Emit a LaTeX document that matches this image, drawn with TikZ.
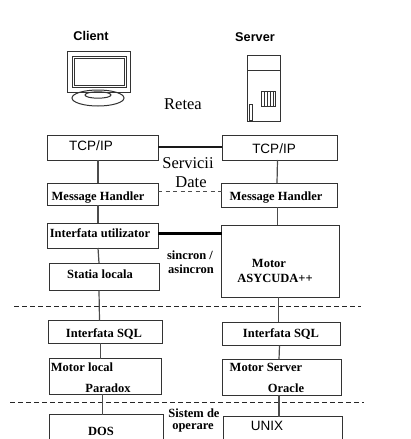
\documentclass[tikz,border=0pt]{standalone}
\usepackage{fontspec}
\setmainfont{Liberation Serif}
\setsansfont{Liberation Sans}
\usetikzlibrary{positioning}

\begin{document}
\begin{tikzpicture}[
    x=1pt, y=-1pt,
    node distance=20pt and 60pt,
    block/.style={rectangle, draw=black!80, line width=0.95pt, inner sep=0pt, outer sep=0pt, minimum width=111pt, minimum height=25pt},
    serverblock/.style={block, minimum width=117pt},
    link/.style={draw=black!70, line width=1.2pt},
    sep/.style={draw=black!85, line width=0.8pt, dash pattern=on 4.5pt off 3.5pt},
    boxlabel/.style={font=\fontsize{12.5}{14}\selectfont\bfseries, text=black},
    netlabel/.style={font=\fontsize{16.5}{18}\selectfont, text=black},
    headlabel/.style={font=\fontsize{12.7}{14}\selectfont\sffamily\bfseries, text=black},
    tcplabel/.style={font=\fontsize{13.5}{15}\selectfont\sffamily, text=black},
    icon/.style={draw=black!80, line width=1pt},
]
\path[use as bounding box, clip] (0,0) rectangle (410,439);

% === Titles ===
\node (client) [headlabel] at (91,36) {Client};
\node (server) [headlabel] at (255,37) {Server};
\node (retea) [netlabel] at (183,104) {Retea};

% === Monitor ===
\draw[icon] (67,51) rectangle (130,92);
\draw[icon] (72,56) rectangle (126,87);
\draw[icon] (74,58) rectangle (124,85);
\draw[icon] (98,98) ellipse (26 and 8);
\draw[icon] (98,95) ellipse (13 and 3.2);

% === Tower ===
\draw[icon] (247,55) rectangle (280,121);
\draw[icon] (247,70) -- (280,70);
\draw[icon] (261,91) rectangle (275,106);
\foreach \gx in {264,267,270,273} \draw[icon, line width=0.7pt] (\gx,91) -- (\gx,106);
\draw[icon] (249.5,104) rectangle (252.5,120);

% === Client stack ===
\node (tcp_c) [block, anchor=north west] at (47,135) {};
\node (mh_c) [block, minimum height=22pt, below=23pt of tcp_c] {};
\node (ui_c) [block, below=18pt of mh_c] {};
\node (st_c) [block, minimum width=110pt, minimum height=27.5pt, below=15pt of ui_c, xshift=1.5pt] {};
\node (sql_c) [block, minimum width=114pt, minimum height=22.5pt, below=30pt of st_c, xshift=1.5pt] {};
\node (mot_c) [block, minimum width=112pt, minimum height=35.5pt, below=15.5pt of sql_c] {};
\node (dos_c) [block, minimum width=114pt, minimum height=40pt, below=20.5pt of mot_c, xshift=1pt] {};

% === Server stack ===
\node (tcp_s) [serverblock, minimum width=115pt, anchor=north west] at (222,135) {};
\node (mh_s) [serverblock, minimum width=116pt, minimum height=24pt, below=23pt of tcp_s] {};
\node (asy_s) [serverblock, minimum width=118pt, minimum height=72pt, below=18pt of mh_s, xshift=1pt] {};
\node (sql_s) [serverblock, minimum width=118pt, minimum height=23.5pt, below=25pt of asy_s, xshift=1pt] {};
\node (mot_s) [serverblock, minimum width=119pt, minimum height=35.5pt, below=14pt of sql_s] {};
\node (unix_s) [serverblock, minimum width=119pt, minimum height=40pt, below=21.5pt of mot_s, xshift=1pt] {};

% === Separators ===
\coordinate (sep1a) at (14,306.7);
\coordinate (sep1b) at (361,306.7);
\coordinate (sep2a) at (10,402);
\coordinate (sep2b) at (364,402);
\draw[sep] (sep1a) -- (sep1b);
\draw[sep] (sep2a) -- (sep2b);

% === Links, client ===
\draw[link] ([xshift=-4.5pt]tcp_c.south) -- ([xshift=-4.5pt]mh_c.north);
\draw[link] ([xshift=-4.5pt]mh_c.south) -- ([xshift=-4.5pt]ui_c.north);
\draw[link] ([xshift=-4.5pt]ui_c.south) -- ([xshift=-5pt]st_c.north);
\draw[link] ([xshift=-5pt]st_c.south) -- ([xshift=-6pt]sql_c.north);
\draw[link] ([xshift=-5pt]sql_c.south) -- ([xshift=-5pt]mot_c.north);
\draw[link] ([xshift=-3pt]mot_c.south) -- ([xshift=-4pt]dos_c.north);

% === Links, server ===
\draw[link] ([xshift=-2pt]tcp_s.south) -- ([xshift=-2.5pt]mh_s.north);
\draw[link] ([xshift=-2pt]mh_s.south) -- ([xshift=-3pt]asy_s.north);
\draw[link] ([xshift=-2pt]asy_s.south) -- ([xshift=-3pt]sql_s.north);
\draw[link] ([xshift=-2pt]sql_s.south) -- ([xshift=-2.5pt]mot_s.north);
\draw[link] ([xshift=-2.5pt]mot_s.south) -- ([xshift=-3.5pt]unix_s.north);

% === Links between the stacks ===
\draw[link, line width=2pt, draw=black!90] ([yshift=0.5pt]tcp_c.east) -- ([yshift=0.5pt]tcp_c.east -| tcp_s.west);
\draw[link, line width=0.8pt, dash pattern=on 4pt off 3.5pt] ([yshift=2.5pt]mh_c.east) -- ([yshift=2.5pt]mh_c.east -| mh_s.west);
\draw[link, line width=3pt, draw=black] ([yshift=2.5pt]ui_c.east) -- ([yshift=2.5pt]ui_c.east -| asy_s.west);

% === Box labels ===
\node (tcp_ct) [tcplabel] at (91,146) {TCP/IP};
\node (tcp_st) [tcplabel] at (274,149) {TCP/IP};
\node (mh_ct) [boxlabel] at (98,198) {Message Handler};
\node (mh_st) [boxlabel] at (276,198) {Message Handler};
\node (ui_ct) [boxlabel] at (100,233) {Interfata utilizator};
\node (st_ct) [boxlabel] at (100,274) {Statia locala};
\node (asy_t1) [boxlabel] at (269,263) {Motor};
\node (asy_t2) [boxlabel] at (275,278) {ASYCUDA++};
\node (sql_ct) [boxlabel] at (104,334) {Interfata SQL};
\node (sql_st) [boxlabel] at (281,334) {Interfata SQL};
\node (mot_t1) [boxlabel] at (82,367) {Motor local};
\node (mot_t2) [boxlabel] at (108,388) {Paradox};
\node (mot_t3) [boxlabel] at (266,367) {Motor Server};
\node (mot_t4) [boxlabel] at (286,388) {Oracle};
\node (dos_ct) [boxlabel] at (101,431) {DOS};
\node (unix_st) [tcplabel] at (267,426) {UNIX};

% === Labels between the stacks ===
\node (serv_t) [netlabel] at (188,163) {Servicii};
\node (date_t) [netlabel] at (191,182) {Date};
\node (sync_t1) [boxlabel] at (190,255) {sincron /};
\node (sync_t2) [boxlabel] at (191,269) {asincron};
\node (os_t1) [boxlabel] at (194,413) {Sistem de};
\node (os_t2) [boxlabel] at (193,428) {operare};

\end{tikzpicture}
\end{document}
